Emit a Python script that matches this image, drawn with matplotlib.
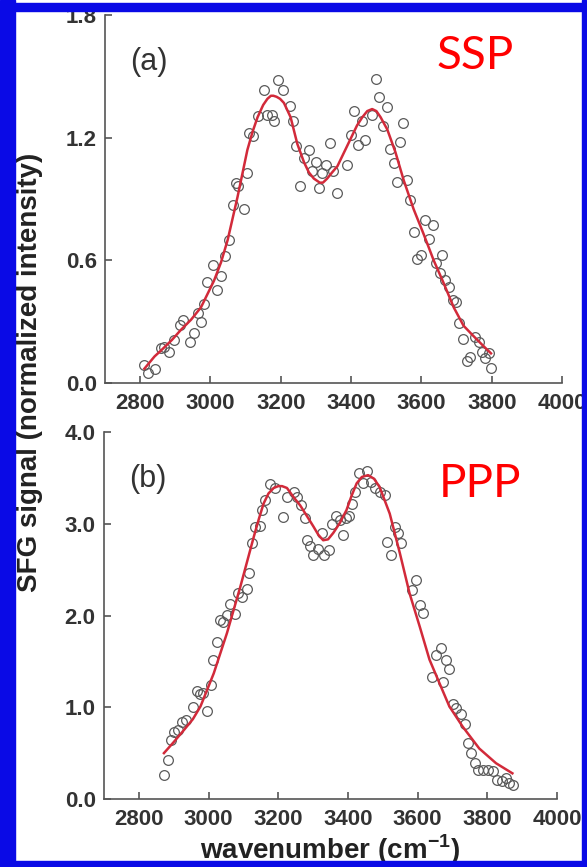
import matplotlib
matplotlib.use("Agg")
import matplotlib.pyplot as plt
from matplotlib.patches import Rectangle

plt.rcParams['font.family'] = ['Liberation Sans', 'DejaVu Sans']
plt.rcParams['mathtext.fontset'] = 'custom'
plt.rcParams['mathtext.rm'] = 'Liberation Sans'
plt.rcParams['mathtext.bf'] = 'Liberation Sans:bold'

# (a) SSP - measured points
ssp_x = [2812, 2822, 2841, 2858, 2869, 2883, 2897, 2912, 2921, 2943, 2954, 2964, 2973, 2982,
         2990, 3006, 3020, 3030, 3041, 3053, 3063, 3072, 3079, 3094, 3105, 3110, 3120, 3134,
         3151, 3162, 3174, 3181, 3191, 3205, 3226, 3236, 3243, 3254, 3266, 3280, 3290, 3299,
         3309, 3318, 3330, 3340, 3349, 3361, 3389, 3399, 3408, 3419, 3432, 3441, 3460, 3471,
         3479, 3490, 3503, 3512, 3521, 3531, 3538, 3548, 3559, 3569, 3578, 3588, 3600, 3611,
         3621, 3632, 3642, 3652, 3659, 3668, 3679, 3690, 3699, 3708, 3718, 3730, 3739, 3753,
         3763, 3772, 3782, 3791, 3799]
ssp_y = [0.088, 0.047, 0.067, 0.170, 0.178, 0.153, 0.211, 0.284, 0.309, 0.202, 0.243, 0.341, 0.300, 0.387,
         0.496, 0.578, 0.456, 0.521, 0.619, 0.700, 0.872, 0.978, 0.962, 0.851, 1.027, 1.223, 1.207, 1.304,
         1.432, 1.313, 1.313, 1.280, 1.484, 1.432, 1.353, 1.280, 1.157, 0.962, 1.100, 1.141, 1.035, 1.081,
         0.954, 1.027, 1.068, 1.174, 1.035, 0.929, 1.068, 1.215, 1.329, 1.166, 1.280, 1.187, 1.313, 1.489,
         1.397, 1.255, 1.350, 1.146, 1.076, 0.981, 1.177, 1.272, 0.991, 0.896, 0.741, 0.606, 0.627, 0.798,
         0.704, 0.774, 0.586, 0.540, 0.627, 0.504, 0.469, 0.407, 0.398, 0.292, 0.214, 0.109, 0.129, 0.227,
         0.202, 0.153, 0.121, 0.145, 0.075]

# (a) SSP - fitted curve
ssp_fit_x = [2812, 2841, 2860, 2890, 2916, 2945, 2973, 3010, 3030, 3049, 3077, 3105, 3120, 3134,
             3150, 3162, 3172, 3179, 3188, 3198, 3209, 3228, 3247, 3266, 3280, 3294, 3311, 3320,
             3332, 3346, 3361, 3389, 3417, 3432, 3446, 3460, 3472, 3484, 3503, 3526, 3550,
             3578, 3606, 3635, 3663, 3692, 3720, 3748, 3777, 3798]
ssp_fit_y = [0.07, 0.13, 0.16, 0.21, 0.26, 0.31, 0.37, 0.50, 0.59, 0.70, 0.91, 1.14, 1.23, 1.30,
             1.36, 1.39, 1.405, 1.405, 1.40, 1.39, 1.37, 1.30, 1.17, 1.08, 1.03, 1.00, 0.98, 0.98,
             1.00, 1.03, 1.06, 1.16, 1.26, 1.30, 1.33, 1.34, 1.33, 1.30, 1.24, 1.13, 0.99,
             0.85, 0.73, 0.60, 0.49, 0.37, 0.28, 0.23, 0.18, 0.145]

# (b) PPP - measured points
ppp_x = [2872, 2885, 2891, 2901, 2911, 2925, 2934, 2956, 2968, 2975, 2985, 2996, 3006, 3013,
         3025, 3034, 3042, 3053, 3063, 3077, 3084, 3096, 3109, 3115, 3125, 3134, 3147, 3153,
         3163, 3175, 3191, 3215, 3225, 3244, 3253, 3265, 3277, 3282, 3291, 3301, 3313, 3325,
         3332, 3346, 3355, 3365, 3377, 3385, 3394, 3404, 3413, 3420, 3432, 3444, 3455, 3465,
         3477, 3491, 3506, 3512, 3525, 3534, 3544, 3553, 3585, 3594, 3606, 3615, 3642, 3653,
         3668, 3672, 3682, 3691, 3701, 3711, 3725, 3737, 3744, 3753, 3766, 3774, 3787, 3801,
         3815, 3829, 3842, 3853, 3863, 3874]
ppp_y = [0.26, 0.425, 0.64, 0.73, 0.75, 0.84, 0.86, 1.00, 1.18, 1.14, 1.15, 0.96, 1.24, 1.52,
         1.71, 1.95, 1.93, 2.01, 2.13, 2.02, 2.24, 2.20, 2.29, 2.46, 2.79, 2.97, 2.98, 3.15,
         3.26, 3.43, 3.39, 3.07, 3.29, 3.35, 3.29, 3.20, 3.06, 2.82, 2.76, 2.66, 2.73, 2.90,
         2.66, 2.71, 3.00, 3.08, 3.04, 2.88, 3.06, 3.08, 3.22, 3.35, 3.55, 3.44, 3.57, 3.46,
         3.39, 3.35, 3.31, 2.80, 2.66, 2.97, 2.90, 2.79, 2.28, 2.39, 2.11, 2.03, 1.33, 1.57,
         1.65, 1.28, 1.51, 1.42, 1.04, 0.99, 0.93, 0.82, 0.61, 0.50, 0.39, 0.32, 0.32, 0.32,
         0.30, 0.21, 0.20, 0.23, 0.17, 0.15]

# (b) PPP - fitted curve
ppp_fit_x = [2872, 2900, 2929, 2955, 2977, 3015, 3053, 3091, 3130, 3145, 3158, 3172, 3187, 3200,
             3211, 3225, 3244, 3263, 3283, 3301, 3315, 3329, 3343, 3358, 3377, 3396, 3410, 3425,
             3440, 3458, 3475, 3491, 3520, 3549, 3577, 3606, 3634, 3663, 3691, 3729, 3777, 3825, 3872]
ppp_fit_y = [0.50, 0.62, 0.75, 0.87, 1.01, 1.37, 1.81, 2.31, 2.86, 3.06, 3.22, 3.33, 3.39, 3.41,
             3.41, 3.39, 3.29, 3.20, 3.08, 2.97, 2.88, 2.82, 2.83, 2.90, 3.01, 3.15, 3.30, 3.44,
             3.51, 3.53, 3.49, 3.40, 3.11, 2.68, 2.24, 1.88, 1.52, 1.26, 1.01, 0.79, 0.55, 0.39, 0.28]

xticks = [2800, 3000, 3200, 3400, 3600, 3800, 4000]
ssp_yticks = [0.0, 0.6, 1.2, 1.8]
ppp_yticks = [0.0, 1.0, 2.0, 3.0, 4.0]

W, H = 587, 867
fig = plt.figure(figsize=(W / 100, H / 100), dpi=100)
fig.patch.set_facecolor('white')

ax1 = fig.add_axes([105 / W, 1 - 383 / H, 457 / W, 368 / H])
ax2 = fig.add_axes([104 / W, 1 - 799 / H, 453 / W, 367 / H])

panels = [
    (ax1, ssp_x, ssp_y, ssp_fit_x, ssp_fit_y, ssp_yticks, 1.8, '(a)', 'SSP', 0.81, 0.889),
    (ax2, ppp_x, ppp_y, ppp_fit_x, ppp_fit_y, ppp_yticks, 4.0, '(b)', 'PPP', 0.83, 0.858),
]

for ax, px, py, fx, fy, yt, ytop, tag, mode, mx, my in panels:
    ax.plot(px, py, 'o', mfc='none', mec='#5a5a5a', ms=7, mew=0.9, zorder=2)
    ax.plot(fx, fy, '-', color='#d22a3a', lw=1.8, zorder=3)
    ax.set_xlim(2700, 4000)
    ax.set_ylim(0, ytop)
    ax.set_xticks(xticks)
    ax.set_yticks(yt)
    ax.set_xticklabels([str(v) for v in xticks], fontsize=16, fontweight='bold')
    ax.set_yticklabels(['%.1f' % v for v in yt], fontsize=16, fontweight='bold')
    for s in ['top', 'right']:
        ax.spines[s].set_visible(False)
    for s in ['left', 'bottom']:
        ax.spines[s].set_color('#555555')
        ax.spines[s].set_linewidth(1.2)
    ax.tick_params(direction='in', length=5, width=1.2, color='#555555',
                   labelcolor='#333333')
    ax.tick_params(axis='y', pad=6)
    ax.tick_params(axis='x', pad=7)
    ax.text(0.096, 0.872, tag, transform=ax.transAxes, ha='center', va='center',
            fontsize=22, color='#333333')
    ax.text(mx, my, mode, transform=ax.transAxes, ha='center', va='center',
            fontsize=33, color='#ff0000', family='Lato')

fig.text(30 / W, 1 - 372 / H, 'SFG signal (normalized intensity)', rotation=90,
         ha='center', va='center', fontsize=20, fontweight='bold', color='#222222')
fig.text(330 / W, 1 - 859 / H, r'wavenumber (cm$^{\mathbf{-1}}$)', ha='center',
         va='baseline', fontsize=20, fontweight='bold', color='#222222')

# blue frame around the figure
blue = '#0a0ae6'
fig.add_artist(Rectangle((0, 0), 15 / W, 1, transform=fig.transFigure, color=blue, zorder=10))
fig.add_artist(Rectangle((0, 1 - 11 / H), 1, 8 / H, transform=fig.transFigure, color=blue, zorder=10))
fig.add_artist(Rectangle((582 / W, 0), 4 / W, 1, transform=fig.transFigure, color=blue, zorder=10))
fig.add_artist(Rectangle((0, 0), 1, 6 / H, transform=fig.transFigure, color=blue, zorder=10))

fig.savefig('out.png', dpi=100)
